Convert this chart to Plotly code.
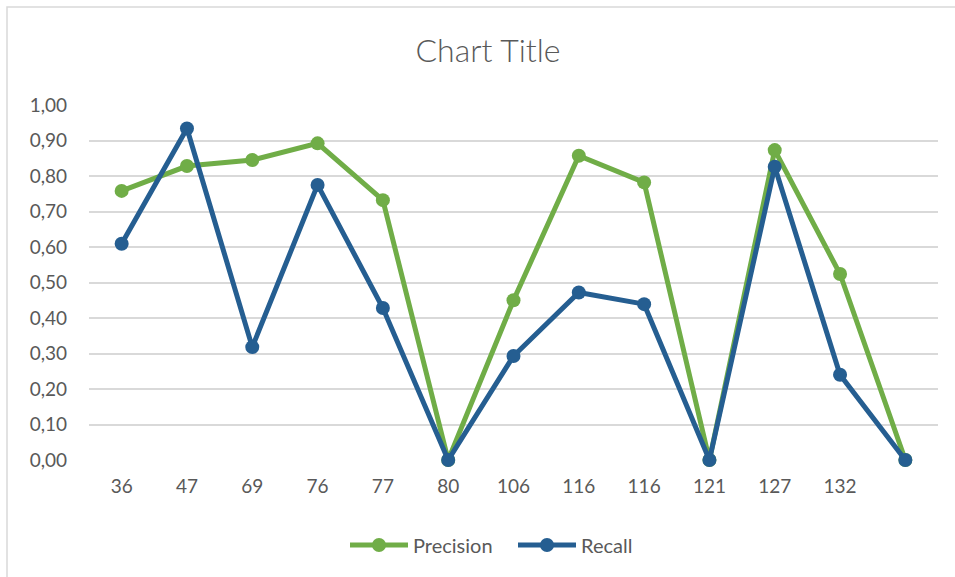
import plotly.graph_objects as go

# Category labels along the x axis (last slot is unlabeled)
categories = ["36", "47", "69", "76", "77", "80", "106", "116", "116", "121", "127", "132", ""]

precision = [0.758, 0.828, 0.845, 0.892, 0.732, 0.0, 0.450, 0.857, 0.782, 0.0, 0.873, 0.524, 0.0]
recall = [0.609, 0.934, 0.318, 0.775, 0.428, 0.0, 0.293, 0.472, 0.439, 0.0, 0.826, 0.240, 0.0]

y_ticks = [0.0, 0.1, 0.2, 0.3, 0.4, 0.5, 0.6, 0.7, 0.8, 0.9, 1.0]
y_tick_text = [f"{v:.2f}".replace(".", ",") for v in y_ticks]

GREEN = "#70AD47"
BLUE = "#255E91"
TEXT = "#595959"
GRID = "#D9D9D9"
FONT = "Lato, Open Sans, sans-serif"

x_idx = list(range(len(categories)))

fig = go.Figure()
fig.add_trace(go.Scatter(
    x=x_idx, y=precision, name="Precision", mode="lines+markers",
    line=dict(color=GREEN, width=5),
    marker=dict(color=GREEN, size=14),
    cliponaxis=False,
))
fig.add_trace(go.Scatter(
    x=x_idx, y=recall, name="Recall", mode="lines+markers",
    line=dict(color=BLUE, width=5),
    marker=dict(color=BLUE, size=14),
    cliponaxis=False,
))

L, R, T, B = 89, 17, 105, 117
W, H = 955, 577
pw, ph = W - L - R, H - T - B

# outer chart frame (runs off the right and bottom edges)
fig.add_shape(
    type="rect", xref="paper", yref="paper",
    x0=(7 - L) / pw, x1=(W + 20 - L) / pw,
    y0=-(H + 20 - (H - B)) / ph, y1=(H - B - 7) / ph,
    line=dict(color=GRID, width=1.5), fillcolor="rgba(0,0,0,0)", layer="below",
)

fig.update_layout(
    width=W, height=H,
    margin=dict(l=L, r=R, t=T, b=B),
    paper_bgcolor="white", plot_bgcolor="white",
    font=dict(family=FONT, color=TEXT, size=19),
    title=dict(
        text="Chart Title", x=488 / W, xref="container", xanchor="center",
        y=1 - 51 / H, yref="container", yanchor="middle",
        font=dict(family=FONT, size=32, color=TEXT, weight=300),
    ),
    xaxis=dict(
        range=[-0.5, len(categories) - 0.5],
        tickmode="array", tickvals=x_idx, ticktext=categories,
        showgrid=False, zeroline=False, showline=False,
        ticks="", ticklabelstandoff=13,
        tickfont=dict(size=19, color=TEXT),
        fixedrange=True,
    ),
    yaxis=dict(
        range=[0, 1.0],
        tickmode="array", tickvals=y_ticks, ticktext=y_tick_text,
        showgrid=True, gridcolor=GRID, gridwidth=1.5,
        zeroline=False, showline=False,
        ticks="", ticklabelstandoff=21,
        tickfont=dict(size=19, color=TEXT),
        fixedrange=True,
    ),
    legend=dict(
        orientation="h", x=(345 - L) / pw, xanchor="left",
        y=(H - B - 545) / ph, yanchor="middle",
        font=dict(size=20, color=TEXT),
        itemwidth=58, entrywidth=95, entrywidthmode="pixels",
        bgcolor="rgba(0,0,0,0)",
    ),
    showlegend=True,
)

fig.write_html("out.html")
